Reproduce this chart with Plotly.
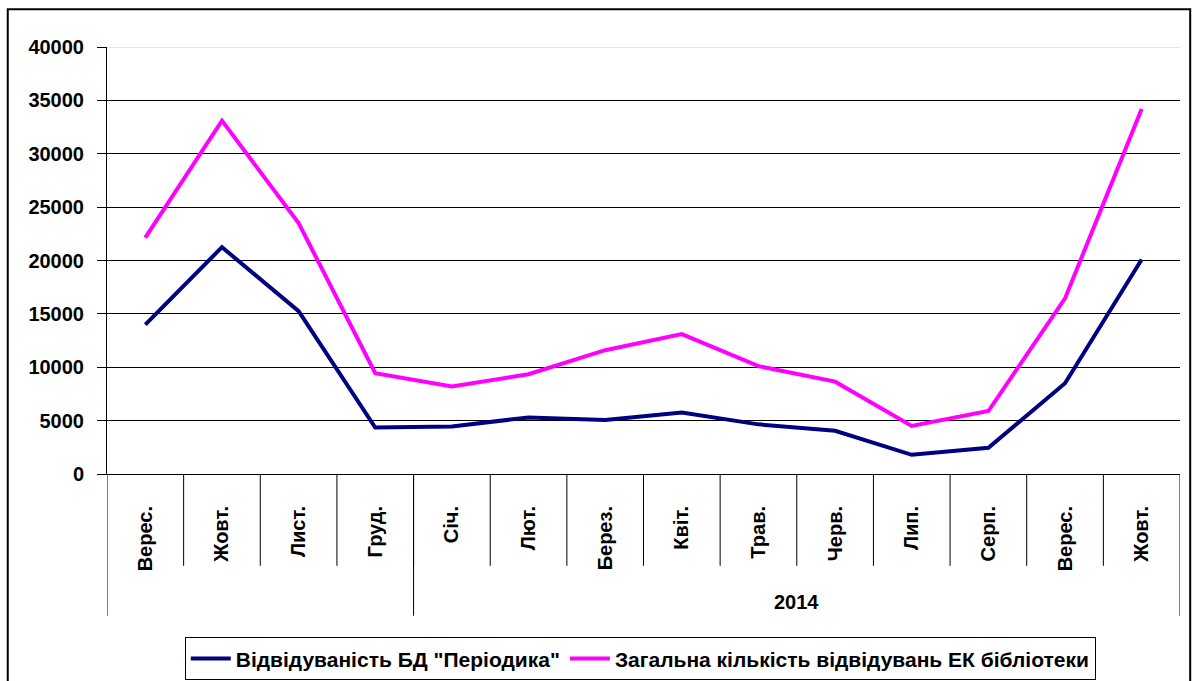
import plotly.graph_objects as go

months = ["Верес.", "Жовт.", "Лист.", "Груд.", "Січ.", "Лют.", "Берез.",
          "Квіт.", "Трав.", "Черв.", "Лип.", "Серп.", "Верес.", "Жовт."]
year_label = "2014"
year_start = 4  # index of first month in 2014
periodika = [14000, 21250, 15250, 4350, 4450, 5300, 5050,
             5750, 4650, 4050, 1800, 2450, 8500, 20100]
total = [22150, 33100, 23500, 9450, 8200, 9350, 11600,
         13100, 10100, 8650, 4500, 5900, 16450, 34200]
y_ticks = [0, 5000, 10000, 15000, 20000, 25000, 30000, 35000, 40000]
name_periodika = 'Відвідуваність БД "Періодика"'
name_total = "Загальна кількість відвідувань ЕК бібліотеки"

FONT = "Arial, Liberation Sans, sans-serif"
xs = list(range(len(months)))

fig = go.Figure()
fig.add_trace(go.Scatter(x=xs, y=periodika, mode="lines", name="<b>" + name_periodika + "</b>",
                         line=dict(color="#000080", width=4)))
fig.add_trace(go.Scatter(x=xs, y=total, mode="lines", name="<b>" + name_total + "</b>",
                         line=dict(color="#FF00FF", width=4)))

shapes = []
# category separators
for i in range(len(months) - 1):
    shapes.append(dict(type="line", xref="x", yref="paper", x0=i + 0.5, x1=i + 0.5,
                       y0=0, y1=-0.215, line=dict(color="black", width=1)))
# group separators
for xb in [-0.5, year_start - 0.5, len(months) - 0.5]:
    shapes.append(dict(type="line", xref="x", yref="paper", x0=xb, x1=xb,
                       y0=0, y1=-0.332, line=dict(color="black", width=1)))
# top gridline in light gray
shapes.append(dict(type="line", xref="paper", yref="y", x0=0, x1=1, y0=40000, y1=40000,
                   line=dict(color="#c8c8c8", width=1), layer="above"))
# outer chart border
shapes.append(dict(type="rect", xref="paper", yref="paper", x0=-0.0925, x1=1.0095,
                   y0=-0.56, y1=1.0882, line=dict(color="black", width=2)))

fig.update_layout(
    width=1193, height=681,
    margin=dict(l=107, r=13, t=47, b=207),
    paper_bgcolor="white", plot_bgcolor="white",
    font=dict(family=FONT, size=20, color="black"),
    showlegend=True,
    legend=dict(orientation="h", xref="paper", x=0.497, xanchor="center",
                yref="container", y=0.064, yanchor="top",
                bordercolor="black", borderwidth=1,
                font=dict(family=FONT, size=21, color="black"),
                itemwidth=40, tracegroupgap=0),
    shapes=shapes,
    annotations=[dict(text="<b>" + year_label + "</b>", xref="x", yref="paper",
                      x=(year_start + len(months) - 1) / 2, y=-0.2996,
                      showarrow=False, yanchor="middle",
                      font=dict(family=FONT, size=20, color="black"))],
)
fig.update_xaxes(range=[-0.5, len(months) - 0.5], tickmode="array", tickvals=xs,
                 ticktext=["<b>" + m + "</b>" for m in months], tickangle=-90, ticks="",
                 ticklabelstandoff=23,
                 showgrid=False, zeroline=False, showline=True, linecolor="black",
                 linewidth=1,
                 tickfont=dict(family=FONT, size=20, color="black"))
fig.update_yaxes(range=[0, 40000], tickmode="array", tickvals=y_ticks,
                 ticktext=["<b>%d</b>" % v for v in y_ticks],
                 ticks="outside", ticklen=9,
                 tickcolor="black", ticklabelstandoff=9,
                 showgrid=True, gridcolor="black", gridwidth=1, zeroline=False,
                 showline=True, linecolor="black", linewidth=1,
                 tickfont=dict(family=FONT, size=20, color="black"))

fig.write_html("out.html", config={"displayModeBar": False},
               post_script="document.body.style.margin='0';")
